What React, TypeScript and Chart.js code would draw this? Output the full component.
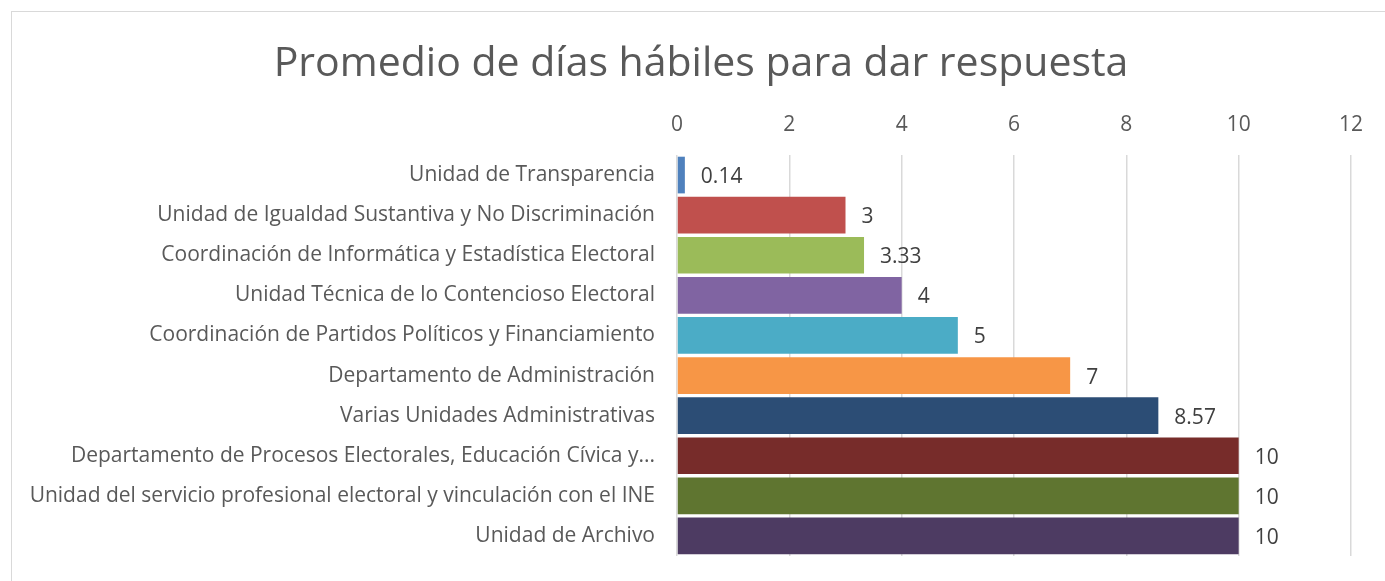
import React, { useEffect, useRef } from "react";
import { Chart, registerables } from "chart.js";

Chart.register(...registerables);

const TITLE = "Promedio de días hábiles para dar respuesta";
const categories = [
  "Unidad de Transparencia",
  "Unidad de Igualdad Sustantiva y No Discriminación",
  "Coordinación de Informática y Estadística Electoral",
  "Unidad Técnica de lo Contencioso Electoral",
  "Coordinación de Partidos Políticos y Financiamiento",
  "Departamento de Administración",
  "Varias Unidades Administrativas",
  "Departamento de Procesos Electorales, Educación Cívica y...",
  "Unidad del servicio profesional electoral y vinculación con el INE",
  "Unidad de Archivo",
];
const values = [0.14, 3, 3.33, 4, 5, 7, 8.57, 10, 10, 10];
const barColors = [
  "#4F81BD",
  "#C0504D",
  "#9BBB59",
  "#8064A2",
  "#4BACC6",
  "#F79646",
  "#2C4D75",
  "#772C2A",
  "#5F7530",
  "#4D3B62",
];
const xTicks = [0, 2, 4, 6, 8, 10, 12];

const FONT = "'Open Sans', sans-serif";

const dataLabels = {
  id: "dataLabels",
  afterDatasetsDraw(chart: any) {
    const ctx = chart.ctx;
    const meta = chart.getDatasetMeta(0);
    ctx.save();
    ctx.font = `21px ${FONT}`;
    ctx.fillStyle = "#404040";
    ctx.textAlign = "left";
    ctx.textBaseline = "middle";
    meta.data.forEach((bar: any, i: number) => {
      ctx.fillText(String(values[i]), bar.x + 16, bar.y + 2);
    });
    ctx.restore();
  },
};

const titlePlugin = {
  id: "customTitle",
  afterDraw(chart: any) {
    const ctx = chart.ctx;
    ctx.save();
    ctx.font = `41px ${FONT}`;
    ctx.fillStyle = "#595959";
    ctx.textAlign = "center";
    ctx.textBaseline = "middle";
    ctx.fillText(TITLE, 701, 64);
    ctx.restore();
  },
};

export default function App() {
  const ref = useRef<HTMLCanvasElement>(null);
  useEffect(() => {
    if (!ref.current) return;
    const chart = new Chart(ref.current, {
      type: "bar",
      data: {
        labels: categories,
        datasets: [
          {
            data: values,
            backgroundColor: barColors,
            barPercentage: 0.915,
            categoryPercentage: 1,
          },
        ],
      },
      plugins: [dataLabels, titlePlugin],
      options: {
        indexAxis: "y",
        animation: false,
        responsive: false,
        layout: { padding: { left: 0, right: 34, top: 91, bottom: 25 } },
        plugins: {
          legend: { display: false },
          tooltip: { enabled: false },
          title: { display: false },
        },
        scales: {
          x: {
            position: "top",
            min: 0,
            max: 12,
            afterBuildTicks(scale: any) {
              scale.ticks = xTicks.map((v) => ({ value: v }));
            },
            afterFit(scale: any) {
              scale.height = 64;
              scale.paddingLeft = 0;
              scale.paddingRight = 0;
            },
            grid: { color: "#D9D9D9", lineWidth: 1.5, drawTicks: false },
            border: { display: false },
            ticks: {
              color: "#595959",
              font: { family: FONT, size: 21 },
              padding: 17,
            },
          },
          y: {
            afterFit(scale: any) {
              scale.width = 677;
              scale.paddingTop = 0;
              scale.paddingBottom = 0;
            },
            grid: { display: false, drawTicks: false },
            border: { display: false },
            ticks: {
              color: "#595959",
              font: { family: FONT, size: 21 },
              padding: 22,
              autoSkip: false,
            },
          },
        },
      },
    });
    return () => chart.destroy();
  }, []);
  return (
    <div style={{ position: "fixed", left: 0, top: 0, width: 1385, height: 581, background: "#fff" }}>
      <div
        style={{
          position: "absolute",
          left: 11,
          top: 11,
          width: 1400,
          height: 600,
          border: "1.5px solid #D9D9D9",
          boxSizing: "border-box",
        }}
      />
      <canvas ref={ref} width={1385} height={581} style={{ position: "absolute", left: 0, top: 0 }} />
    </div>
  );
}
